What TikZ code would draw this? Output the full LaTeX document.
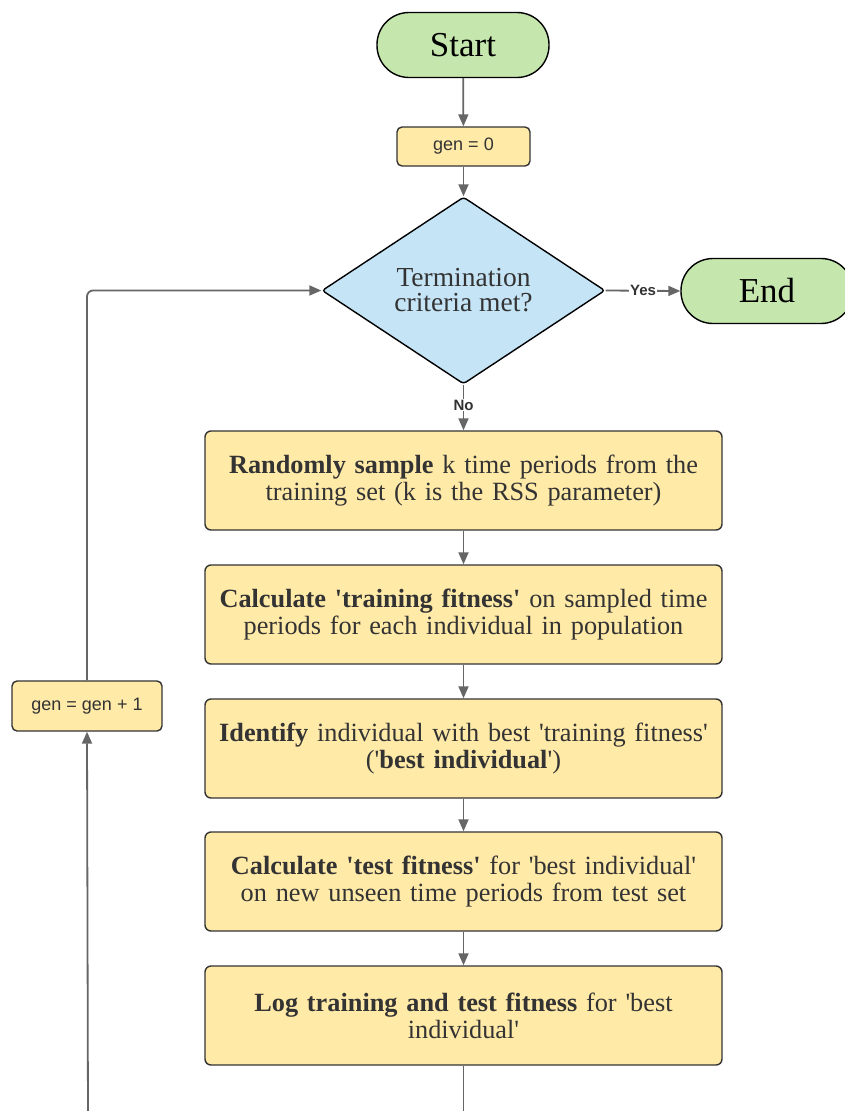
\documentclass[tikz,border=0pt]{standalone}
\usepackage{fontspec}
\setmainfont{Liberation Serif}
\newfontfamily\labelfont{Liberation Sans}
\usetikzlibrary{arrows.meta,shapes.geometric}
\definecolor{termgreen}{HTML}{C5E6AD}
\definecolor{procyellow}{HTML}{FFEAA8}
\definecolor{decblue}{HTML}{C5E4F6}
\definecolor{edgegray}{HTML}{666666}
\definecolor{inkdark}{HTML}{333333}
\newcommand\sq{\textquotesingle}
\begin{document}
\begin{tikzpicture}[x=1pt,y=-1pt,
  terminal/.style={draw=black, line width=1.4pt, fill=termgreen, rounded corners=32pt,
    minimum width=172pt, minimum height=65pt, inner sep=0pt, font=\fontsize{35}{38}\selectfont, text=black},
  varbox/.style={draw=inkdark, line width=1.4pt, fill=procyellow, rounded corners=5pt,
    inner sep=0pt, font=\labelfont\fontsize{18}{21}\selectfont, text=inkdark},
  procbox/.style={draw=inkdark, line width=1.4pt, fill=procyellow, rounded corners=6pt,
    minimum width=517pt, minimum height=99pt, inner sep=0pt, text width=510pt, align=center,
    font=\fontsize{26.3}{27}\selectfont, text=inkdark},
  decision/.style={diamond, draw=black, line width=1.4pt, fill=decblue, rounded corners=3pt,
    minimum width=283pt, minimum height=187pt, inner sep=0pt, align=center,
    font=\fontsize{27.5}{25}\selectfont, text=inkdark},
  flow/.style={draw=edgegray, line width=1.8pt, -{Triangle[width=10pt,length=12pt]}},
  plain/.style={draw=edgegray, line width=1.8pt},
  tag/.style={fill=white, inner sep=1pt, font=\labelfont\bfseries\fontsize{15}{17}\selectfont, text=inkdark}
]
\useasboundingbox (0,0) rectangle (844,1111);

% terminals and counters
\node[terminal] (start) at (463,45) {Start};
\node[varbox, minimum width=133pt, minimum height=39pt] (gen0) at (463.5,146.5) {gen = 0};
\node[decision] (crit) at (463.5,290.5) {Termination\\criteria met?};
\node[terminal] (finish) at (767,291) {End};
\node[varbox, minimum width=150pt, minimum height=50pt] (incr) at (87,706) {gen = gen + 1};

% main processing steps
\node[procbox] (s1) at (463.5,480.5) {\textbf{Randomly sample} k time periods from the\\training set (k is the RSS parameter)};
\node[procbox] (s2) at (463.5,614.5) {\textbf{Calculate \sq training fitness\sq} on sampled time\\periods for each individual in population};
\node[procbox] (s3) at (463.5,748.5) {\textbf{Identify} individual with best \sq training fitness\sq\\(\sq\textbf{best individual}\sq)};
\node[procbox] (s4) at (463.5,881.5) {\textbf{Calculate \sq test fitness\sq} for \sq best individual\sq\\on new unseen time periods from test set};
\node[procbox] (s5) at (463.5,1015.5) {\textbf{Log training and test fitness} for \sq best\\individual\sq};

% loop-back ends below the page edge
\coordinate (loopA) at (463.5,1120);
\coordinate (loopB) at (88,1120);

% connectors
\draw[flow] (start) -- (gen0);
\draw[flow] (gen0) -- (crit.north);
\draw[flow] (crit.east) -- node[tag, pos=0.5] {Yes} (finish.west);
\draw[flow] (crit.south) -- node[tag, pos=0.45] {No} (s1.north);
\draw[flow] (s1) -- (s2);
\draw[flow] (s2) -- (s3);
\draw[flow] (s3) -- (s4);
\draw[flow] (s4) -- (s5);
\draw[plain] (s5.south) -- (loopA);
\draw[flow] (loopB) -- (incr.south);
\draw[flow, rounded corners=6pt] (incr.north) |- (crit.west);
\end{tikzpicture}
\end{document}
